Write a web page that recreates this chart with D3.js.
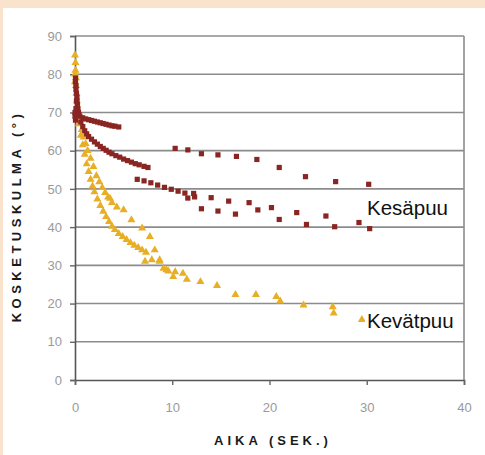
<!DOCTYPE html>
<html>
<head>
<meta charset="utf-8">
<script src="https://cdn.jsdelivr.net/npm/d3@7"></script>
<style>
  body { margin: 0; background: #fff; }
  svg { display: block; }
  text { font-family: "Liberation Sans", Arial, sans-serif; }
</style>
</head>
<body>
<div id="chart"></div>
<script>
// Kesäpuu (summer wood) – time (s) / contact angle (deg)
const kesaX = [0.05,0.05,0.1,0.1,0.15,0.2,0.2,0.25,0.3,0.35,0.4,0,0,0.05,0.1,0.15,
  0.5,0.8,1.1,1.4,1.7,2.0,2.3,2.6,2.9,3.2,3.5,3.8,4.1,4.5,
  0.6,0.8,1.0,1.2,1.4,1.7,2.0,2.3,2.6,2.9,3.2,3.5,3.8,4.2,4.6,5.0,5.4,5.8,6.2,6.6,7.1,7.5,
  6.4,7.1,7.8,8.5,9.2,9.9,10.6,11.3,11.6,12.2,12.3,
  13.0,14.0,14.7,15.8,16.5,17.9,18.8,20.2,21.0,22.8,23.8,25.8,26.7,29.2,30.3,
  10.3,11.6,13.0,14.7,16.6,18.7,21.0,23.7,26.8,30.2];
const kesaY = [79,78,77,76,75,74,73,72,71,70,69.5,70,69,68,71,73,
  69,68.6,68.3,68.1,67.9,67.7,67.5,67.3,67.1,66.9,66.7,66.5,66.4,66.2,
  67.5,66.3,65.2,64.4,63.7,63.0,62.3,61.7,61.1,60.6,60.1,59.6,59.2,58.7,58.3,57.8,57.4,57.0,56.6,56.3,55.9,55.6,
  52.5,52.1,51.6,51.0,50.4,49.9,49.4,48.9,47.6,48.8,47.9,
  44.8,47.7,44.2,46.8,43.4,46.4,44.5,45.1,42.0,43.8,40.7,42.9,40.1,41.2,39.6,
  60.6,60.2,59.2,58.9,58.5,57.7,55.6,53.2,51.9,51.2];

// Kevätpuu (spring wood)
const kevatX = [0,0.05,0.05,0.1,0.1,0.15,0.2,0.25,0.3,0,0,
  0.4,0.6,0.8,1.0,1.2,1.4,1.6,1.8,2.0,2.3,2.6,2.9,3.2,3.5,3.8,4.1,4.5,4.9,5.3,5.7,6.1,6.5,6.9,7.3,
  0.3,0.5,0.7,0.9,1.1,1.3,1.6,1.9,2.2,2.5,2.8,3.1,3.4,3.8,
  3.6,4.3,5.0,5.8,6.9,7.7,8.2,8.7,9.4,10.1,
  7.2,7.9,8.7,9.1,9.6,10.3,11.1,11.5,12.9,14.6,16.5,18.6,20.7,21.1,23.5,26.5,26.6,29.5];
const kevatY = [85,83,81,79,77,75,73,71,69.5,80,78,
  67,64,61.5,59,56.5,54.5,52.5,50.7,49.2,47.3,45.6,44.1,42.7,41.4,40.2,39.3,38.3,37.5,36.7,35.9,35.2,34.6,34.0,33.4,
  70,67.5,65.5,63.5,61.8,60,58,55.8,53.4,51.8,50.3,49,47.8,46.4,
  47.5,45.2,44.5,41.9,39.7,37.5,34.0,31.4,28.8,27.0,
  31.0,31.4,31.0,29.2,28.5,28.3,27.9,26.3,25.7,24.7,22.3,22.3,21.8,20.6,19.6,19.1,17.5,15.8];

const xTicks = [0, 10, 20, 30, 40];
const yTicks = [0, 10, 20, 30, 40, 50, 60, 70, 80, 90];

const W = 485, H = 455;
const margin = { top: 36, right: 21, bottom: 75, left: 75 };

const svg = d3.select("#chart").append("svg")
  .attr("width", W).attr("height", H);

// slight softness like the scanned original
svg.append("defs").append("filter").attr("id", "soft")
  .append("feGaussianBlur").attr("stdDeviation", 0.45);

// peach page frame
svg.append("rect").attr("width", W).attr("height", H).attr("fill", "#f9e3cc");
svg.append("rect").attr("x", 3).attr("y", 8).attr("width", W - 3).attr("height", H - 8).attr("fill", "#fff");

const x = d3.scaleLinear().domain([0, 40]).range([margin.left, W - margin.right]);
const y = d3.scaleLinear().domain([0, 90]).range([H - margin.bottom, margin.top]);

// grid
svg.append("g")
  .selectAll("line").data(yTicks.filter(d => d > 0)).enter().append("line")
  .attr("x1", x(0)).attr("x2", x(40))
  .attr("y1", d => y(d)).attr("y2", d => y(d))
  .attr("stroke", "#8c8c8c").attr("stroke-width", 1.6);

// right border
svg.append("line")
  .attr("x1", x(40)).attr("x2", x(40)).attr("y1", y(90)).attr("y2", y(0))
  .attr("stroke", "#8c8c8c").attr("stroke-width", 1.6);

// axes
const yAxis = svg.append("g")
  .attr("transform", "translate(" + x(0) + ",0)")
  .call(d3.axisLeft(y).tickValues(yTicks).tickSize(5).tickPadding(8));
const xAxis = svg.append("g")
  .attr("transform", "translate(0," + y(0) + ")")
  .call(d3.axisBottom(x).tickValues(xTicks).tickSize(5).tickPadding(18));

[xAxis, yAxis].forEach(g => {
  g.select(".domain").attr("stroke", "#555").attr("stroke-width", 1.6);
  g.selectAll(".tick line").attr("stroke", "#666").attr("stroke-width", 1.4);
  g.selectAll(".tick text").attr("fill", "#9a9a9a").style("font-size", "13px");
});

// points
const kesa = kesaX.map((d, i) => [d, kesaY[i]]);
const kevat = kevatX.map((d, i) => [d, kevatY[i]]);

svg.append("g").attr("filter", "url(#soft)")
  .selectAll("path").data(kevat).enter().append("path")
  .attr("d", d3.symbol().type(d3.symbolTriangle).size(28))
  .attr("transform", d => "translate(" + x(d[0]) + "," + y(d[1]) + ")")
  .attr("fill", "#e7ae26");

svg.append("g").attr("filter", "url(#soft)")
  .selectAll("rect").data(kesa).enter().append("rect")
  .attr("x", d => x(d[0]) - 2.6).attr("y", d => y(d[1]) - 2.6)
  .attr("width", 5.2).attr("height", 5.2)
  .attr("fill", "#8a2623");

// series labels
const labels = svg.append("g");
function label(txt, px, py) {
  const g = labels.append("g");
  const t = g.append("text").attr("x", px).attr("y", py)
    .attr("fill", "#111").style("font-size", "20.5px").text(txt);
  const b = t.node().getBBox();
  g.insert("rect", "text")
    .attr("x", b.x - 2).attr("y", b.y + 2).attr("width", b.width + 4).attr("height", b.height - 3)
    .attr("fill", "#fff");
}
label("Kesäpuu", 367, 215);
label("Kevätpuu", 367, 328);

// axis titles
svg.append("text")
  .attr("x", 273).attr("y", 445)
  .attr("text-anchor", "middle")
  .attr("fill", "#1a1a1a")
  .style("font-size", "13px").style("font-weight", "bold").style("letter-spacing", "4px")
  .text("AIKA (SEK.)");

svg.append("text")
  .attr("transform", "translate(21,216) rotate(-90)")
  .attr("text-anchor", "middle")
  .attr("fill", "#1a1a1a")
  .style("font-size", "13px").style("font-weight", "bold").style("letter-spacing", "4.5px")
  .text("KOSKETUSKULMA (°)");
</script>
</body>
</html>
